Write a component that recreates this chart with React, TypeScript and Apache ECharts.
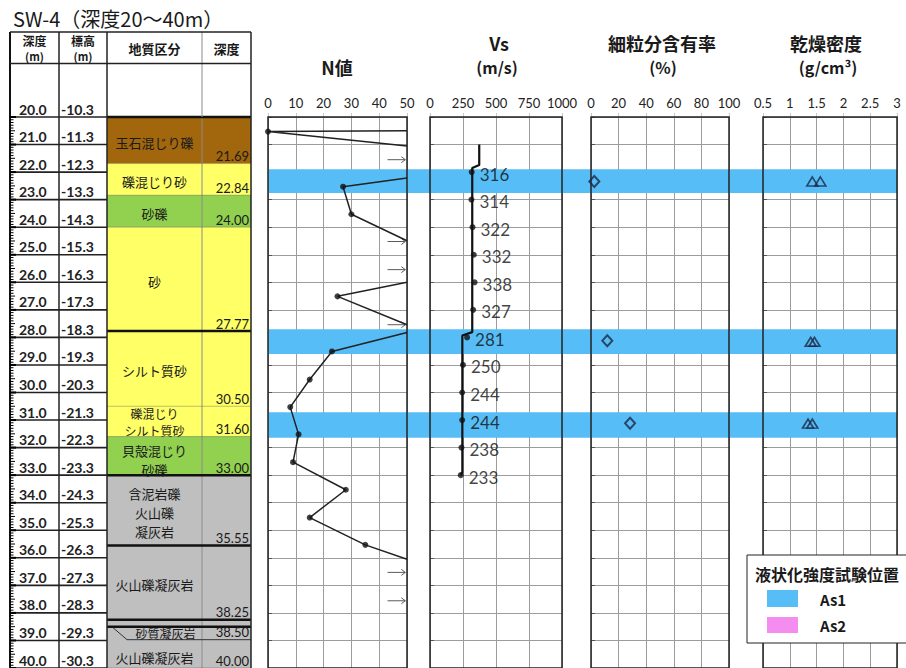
import React, { useEffect, useRef } from "react";
import * as echarts from "echarts";

// ---------------- data ----------------
const depthRows = [20, 21, 22, 23, 24, 25, 26, 27, 28, 29, 30, 31, 32, 33, 34, 35, 36, 37, 38, 39, 40];
const depthRowLabels = ["20.0", "21.0", "22.0", "23.0", "24.0", "25.0", "26.0", "27.0", "28.0", "29.0", "30.0", "31.0", "32.0", "33.0", "34.0", "35.0", "36.0", "37.0", "38.0", "39.0", "40.0"];
const elevationLabels = ["-10.3", "-11.3", "-12.3", "-13.3", "-14.3", "-15.3", "-16.3", "-17.3", "-18.3", "-19.3", "-20.3", "-21.3", "-22.3", "-23.3", "-24.3", "-25.3", "-26.3", "-27.3", "-28.3", "-29.3", "-30.3"];

const layerTop = [20.0, 21.69, 22.84, 24.0, 27.77, 30.5, 31.6, 33.0, 35.55, 38.25, 38.5];
const layerBottom = [21.69, 22.84, 24.0, 27.77, 30.5, 31.6, 33.0, 35.55, 38.25, 38.5, 40.0];
const layerNames = ["玉石混じり礫", "礫混じり砂", "砂礫", "砂", "シルト質砂", "礫混じり\nシルト質砂", "貝殻混じり\n砂礫", "含泥岩礫\n火山礫\n凝灰岩", "火山礫凝灰岩", "砂質凝灰岩", "火山礫凝灰岩"];
const layerDepthLabels = ["21.69", "22.84", "24.00", "27.77", "30.50", "31.60", "33.00", "35.55", "38.25", "38.50", "40.00"];
const layerClass = ["cobble", "sand", "gravel", "sand", "sand", "sand", "gravel", "tuff", "tuff", "tuff", "tuff"];

// N value (SPT)
const nTestDepth = [20.53, 22.53, 23.53, 26.51, 28.51, 29.53, 30.53, 31.52, 32.53, 33.53, 34.54, 35.53];
const nTestValue = [0, 27, 30, 25, 23, 15, 8, 11, 9, 28, 15, 35];
const nLineDepth = [20.5, 20.53, 21.05, NaN, 22.21, 22.53, 23.53, 24.49, NaN, 26.0, 26.51, 27.54, NaN, 27.82, 28.51, 29.53, 30.53, 31.52, 32.53, 33.53, 34.54, 35.53, 36.05];
const nLineValue = [50, 0, 50, NaN, 50, 27, 30, 50, NaN, 50, 25, 50, NaN, 50, 23, 15, 8, 11, 9, 28, 15, 35, 50];
const nOverDepth = [21.55, 24.52, 25.54, 27.54, 36.53, 37.56];

// Vs
const vsDepth = [22, 23, 24, 25, 26, 27, 28, 29, 30, 31, 32, 33];
const vsValue = [316, 314, 322, 332, 338, 327, 281, 250, 244, 244, 238, 233];
const vsLineDepth = [21.0, 21.74, 21.85, 27.81, 27.93, 32.9, 33.0];
const vsLineValue = [373, 373, 320, 320, 245, 245, 233];

// fines content
const fcDepth = [22.34, 28.12, 31.12];
const fcValue = [2.4, 11.8, 28.3];

// dry density
const rhoDepth = [22.34, 22.34, 28.16, 28.16, 31.13, 31.13];
const rhoValue = [1.42, 1.57, 1.39, 1.46, 1.34, 1.42];

// liquefaction strength test positions
const as1Top = [21.9, 27.7, 30.72];
const as1Bottom = [22.76, 28.6, 31.64];
const as2Top: number[] = [];
const as2Bottom: number[] = [];

// ---------------- style ----------------
const SOIL_COLORS: Record<string, string> = {
  cobble: "#A2670C",
  sand: "#FFFF66",
  gravel: "#92D050",
  tuff: "#BFBFBF",
};
const THICK_BOUNDARIES = [27.77, 33.0, 35.55, 38.25, 38.5];
const AS1_COLOR = "#57BDF6";
const AS2_COLOR = "#F58CF0";
const MARK_COLOR = "#1B2845";
const COLS = [0, 49, 97, 192, 241];
const CJK = "'Noto Sans CJK JP'";
const NUM = "Lato";

const PLOT_TOP = 117;
const PLOT_H = 552;

function panelAxes(i: number, min: number, max: number, interval: number) {
  return {
    x: {
      gridIndex: i,
      type: "value",
      position: "top",
      min,
      max,
      interval,
      axisLine: { show: false },
      axisTick: { show: true, length: 4, lineStyle: { color: "#c8c8c8" } },
      axisLabel: {
        margin: 8,
        fontSize: 13,
        color: "#222",
        fontFamily: NUM,
        showMinLabel: true,
        showMaxLabel: true,
        formatter: (v: number) => String(v),
      },
      splitLine: { show: true, lineStyle: { color: "#9c9c9c", width: 1 } },
    },
    y: {
      gridIndex: i,
      type: "value",
      inverse: true,
      min: 20,
      max: 40,
      interval: 1,
      axisLabel: { show: false },
      axisLine: { show: false },
      axisTick: { show: true, inside: true, length: 4, lineStyle: { color: "#555" } },
      splitLine: { show: true, lineStyle: { color: "#9c9c9c", width: 1 } },
    },
  };
}

function renderRow(params: any, api: any) {
  const i = params.dataIndex;
  const d = api.value(1);
  const p0 = api.coord([COLS[0], d]);
  const p1 = api.coord([COLS[1], d]);
  const p2 = api.coord([COLS[2], d]);
  return {
    type: "group",
    children: [
      { type: "line", shape: { x1: p0[0], y1: p0[1], x2: p2[0], y2: p0[1] }, style: { stroke: "#222", lineWidth: 1.6 } },
      {
        type: "text",
        style: { x: p0[0] + 9, y: p0[1] - 1, text: depthRowLabels[i], textAlign: "left", textVerticalAlign: "bottom", fill: "#222", font: `bold 14px ${NUM}` },
      },
      {
        type: "text",
        style: { x: p1[0] + 2, y: p0[1] - 1, text: elevationLabels[i], textAlign: "left", textVerticalAlign: "bottom", fill: "#222", font: `bold 14px ${NUM}` },
      },
    ],
  };
}

function renderRuler(params: any, api: any) {
  const d = api.value(1);
  const p = api.coord([COLS[0], d]);
  const major = params.dataIndex % 10 === 0;
  const half = params.dataIndex % 5 === 0;
  const len = major ? 6 : half ? 5 : 3.5;
  return {
    type: "line",
    shape: { x1: p[0], y1: p[1], x2: p[0] + len, y2: p[1] },
    style: { stroke: "#000", lineWidth: major ? 2 : 1 },
  };
}

function renderLayer(params: any, api: any) {
  const i = params.dataIndex;
  const top = api.value(1);
  const bot = api.value(2);
  const a = api.coord([COLS[2], top]);
  const b = api.coord([COLS[4], bot]);
  const xSep = api.coord([COLS[3], top])[0];
  const x3 = a[0];
  const yT = a[1];
  const x5 = b[0];
  const yB = b[1];
  const thin = yB - yT < 12;
  let prevThin = false;
  if (i > 0) {
    const pt = api.coord([0, layerTop[i - 1]])[1];
    const pb = api.coord([0, layerBottom[i - 1]])[1];
    prevThin = pb - pt < 12;
  }
  const thick = THICK_BOUNDARIES.indexOf(layerBottom[i]) >= 0;
  const children: any[] = [
    { type: "rect", shape: { x: x3, y: yT, width: x5 - x3, height: yB - yT }, style: { fill: SOIL_COLORS[layerClass[i]] } },
    { type: "line", shape: { x1: xSep, y1: yT, x2: xSep, y2: yB }, style: { stroke: "#8c8c8c", lineWidth: 1 } },
    {
      type: "line",
      z2: 5,
      shape: { x1: x3, y1: yB, x2: x5, y2: yB },
      style: thick ? { stroke: "#111", lineWidth: 2.5 } : { stroke: "rgba(0,0,0,0.25)", lineWidth: 1 },
    },
  ];
  if (i === 0) {
    children.push({ type: "line", z2: 5, shape: { x1: x3, y1: yT, x2: x5, y2: yT }, style: { stroke: "#111", lineWidth: 2.5 } });
  }
  if (!thin) {
    const lines = layerNames[i].split("\n");
    const tight = lines.length * 19 > yB - yT;
    const fs = tight ? 12 : 13;
    const lh = tight ? 17 : 19;
    let cy = prevThin ? (yT + 14 + yB) / 2 + 3 : (yT + yB) / 2 + (tight ? 1 : 2);
    if (lines.length > 1 && !tight && yB - yT < lines.length * 19 + 4) cy += 2;
    const y0 = cy - ((lines.length - 1) * lh) / 2;
    lines.forEach((s, k) => {
      children.push({
        type: "text",
        z2: 10,
        style: { x: (x3 + xSep) / 2, y: y0 + k * lh, text: s, textAlign: "center", textVerticalAlign: "middle", fill: "#1a1a1a", font: `${fs}px ${CJK}` },
      });
    });
    children.push({
      type: "text",
      z2: 10,
      style: { x: x5 - 2, y: yB - 1, text: layerDepthLabels[i], textAlign: "right", textVerticalAlign: "bottom", fill: "#1a1a1a", font: `13px ${NUM}` },
    });
  } else {
    children.push({
      type: "polyline",
      z2: 10,
      shape: { points: [[x3 + 6, yB + 1], [x3 + 20, yB + 13], [x5, yB + 13]] },
      style: { stroke: "#333", lineWidth: 1, fill: null },
    });
    children.push({
      type: "text",
      z2: 10,
      style: { x: (x3 + 22 + xSep) / 2, y: yB + 6.5, text: layerNames[i], textAlign: "center", textVerticalAlign: "middle", fill: "#1a1a1a", font: `12px ${CJK}` },
    });
    children.push({
      type: "text",
      z2: 10,
      style: { x: x5 - 2, y: yB + 12, text: layerDepthLabels[i], textAlign: "right", textVerticalAlign: "bottom", fill: "#1a1a1a", font: `13px ${NUM}` },
    });
  }
  return { type: "group", children };
}

function renderArrow(params: any, api: any) {
  const d = api.value(1);
  const p1 = api.coord([43, d]);
  const p2 = api.coord([49.4, d]);
  const y = p1[1];
  return {
    type: "group",
    children: [
      { type: "line", shape: { x1: p1[0], y1: y, x2: p2[0], y2: y }, style: { stroke: "#5a5a5a", lineWidth: 1 } },
      { type: "polyline", shape: { points: [[p2[0] - 4, y - 3], [p2[0], y], [p2[0] - 4, y + 3]] }, style: { stroke: "#5a5a5a", lineWidth: 1, fill: null } },
    ],
  };
}

function buildOption() {
  const panels = [
    panelAxes(0, 0, 50, 10),
    panelAxes(1, 0, 1000, 250),
    panelAxes(2, 0, 100, 20),
    panelAxes(3, 0.5, 3, 0.5),
  ];
  const gridBase = { top: PLOT_TOP, height: PLOT_H, show: true, borderColor: "#222", borderWidth: 1.5, backgroundColor: "transparent", z: 5 };
  const grids = [
    { ...gridBase, left: 268, width: 139 },
    { ...gridBase, left: 430, width: 132 },
    { ...gridBase, left: 591, width: 138 },
    { ...gridBase, left: 763, width: 134 },
    { left: 268, width: 629, top: PLOT_TOP, height: PLOT_H, show: false },
    { left: 10, width: 241, top: PLOT_TOP, height: PLOT_H, show: false },
  ];
  const xAxes: any[] = panels.map((p) => p.x);
  const yAxes: any[] = panels.map((p) => p.y);
  xAxes.push({ gridIndex: 4, type: "value", min: 0, max: 1, show: false });
  yAxes.push({ gridIndex: 4, type: "value", inverse: true, min: 20, max: 40, show: false });
  xAxes.push({ gridIndex: 5, type: "value", min: 0, max: 241, show: false });
  yAxes.push({ gridIndex: 5, type: "value", inverse: true, min: 20, max: 40, show: false });

  // split N line into segments
  const nSegments: number[][][] = [];
  let cur: number[][] = [];
  nLineDepth.forEach((d, i) => {
    if (Number.isNaN(d)) {
      if (cur.length) nSegments.push(cur);
      cur = [];
    } else cur.push([nLineValue[i], d]);
  });
  if (cur.length) nSegments.push(cur);

  // ruler tick positions (every 0.1 m from the axis scale)
  const rulerDepths: number[][] = [];
  for (let k = 0; k <= 200; k++) rulerDepths.push([0, 20 + k / 10]);

  const series: any[] = [];
  // bands
  series.push({
    type: "scatter",
    name: "As1",
    xAxisIndex: 4,
    yAxisIndex: 4,
    data: [[0, 20]],
    symbolSize: 0,
    silent: true,
    z: 1,
    markArea: { silent: true, itemStyle: { color: AS1_COLOR, opacity: 1 }, data: as1Top.map((t, i) => [{ yAxis: t }, { yAxis: as1Bottom[i] }]) },
  });
  series.push({
    type: "scatter",
    name: "As2",
    xAxisIndex: 4,
    yAxisIndex: 4,
    data: [[0, 20]],
    symbolSize: 0,
    silent: true,
    z: 1,
    markArea: { silent: true, itemStyle: { color: AS2_COLOR, opacity: 1 }, data: as2Top.map((t, i) => [{ yAxis: t }, { yAxis: as2Bottom[i] }]) },
  });
  // N
  nSegments.forEach((seg) => {
    series.push({
      type: "line",
      xAxisIndex: 0,
      yAxisIndex: 0,
      data: seg,
      showSymbol: false,
      lineStyle: { color: "#222", width: 1.5 },
      z: 6,
      silent: true,
    });
  });
  series.push({
    type: "scatter",
    xAxisIndex: 0,
    yAxisIndex: 0,
    data: nTestDepth.map((d, i) => [nTestValue[i], d]),
    symbol: "circle",
    symbolSize: 6,
    itemStyle: { color: "#111" },
    z: 7,
  });
  series.push({
    type: "custom",
    xAxisIndex: 0,
    yAxisIndex: 0,
    data: nOverDepth.map((d) => [50, d]),
    encode: { x: 0, y: 1 },
    renderItem: renderArrow,
    z: 6,
  });
  // Vs
  series.push({
    type: "line",
    xAxisIndex: 1,
    yAxisIndex: 1,
    data: vsLineDepth.map((d, i) => [vsLineValue[i], d]),
    showSymbol: false,
    lineStyle: { color: "#111", width: 2.2 },
    z: 6,
  });
  series.push({
    type: "scatter",
    xAxisIndex: 1,
    yAxisIndex: 1,
    data: vsDepth.map((d, i) => [vsValue[i], d]),
    symbol: "circle",
    symbolSize: 6,
    itemStyle: { color: "#111" },
    label: {
      show: true,
      position: "right",
      distance: 5,
      offset: [0, 2],
      formatter: (p: any) => String(p.value[0]),
      fontSize: 17,
      fontFamily: NUM,
      color: "#111",
    },
    z: 7,
  });
  // fines
  series.push({
    type: "scatter",
    xAxisIndex: 2,
    yAxisIndex: 2,
    data: fcDepth.map((d, i) => [fcValue[i], d]),
    symbol: "diamond",
    symbolSize: [10, 11],
    itemStyle: { color: "rgba(0,0,0,0)", borderColor: MARK_COLOR, borderWidth: 2 },
    z: 7,
  });
  // density
  series.push({
    type: "scatter",
    xAxisIndex: 3,
    yAxisIndex: 3,
    data: rhoDepth.map((d, i) => [rhoValue[i], d]),
    symbol: "triangle",
    symbolSize: [11, 9],
    itemStyle: { color: "rgba(0,0,0,0)", borderColor: MARK_COLOR, borderWidth: 1.6 },
    z: 7,
  });
  // table
  series.push({
    type: "custom",
    xAxisIndex: 5,
    yAxisIndex: 5,
    data: layerTop.map((t, i) => [0, t, layerBottom[i]]),
    encode: { x: 0, y: [1, 2] },
    renderItem: renderLayer,
    clip: false,
    z: 2,
  });
  series.push({
    type: "custom",
    xAxisIndex: 5,
    yAxisIndex: 5,
    data: depthRows.map((d) => [0, d]),
    encode: { x: 0, y: 1 },
    renderItem: renderRow,
    clip: false,
    z: 3,
  });
  series.push({
    type: "custom",
    xAxisIndex: 5,
    yAxisIndex: 5,
    data: rulerDepths,
    encode: { x: 0, y: 1 },
    renderItem: renderRuler,
    clip: false,
    silent: true,
    z: 16,
  });

  const txt = (x: number, y: number, text: string, font: string, align = "center") => ({
    type: "text",
    z: 20,
    style: { x, y, text, font, fill: "#1a1a1a", textAlign: align, textVerticalAlign: "middle" },
  });
  const line = (x1: number, y1: number, x2: number, y2: number, stroke: string, lineWidth: number) => ({
    type: "line",
    z: 15,
    shape: { x1, y1, x2, y2 },
    style: { stroke, lineWidth },
  });

  const graphic: any[] = [
    txt(13, 18, "SW-4（深度20～40m）", `20px ${CJK}`, "left"),
    // table frame
    line(10, 32, 10, 669, "#111", 2),
    line(59, 32, 59, 669, "#222", 1.5),
    line(107, 32, 107, 669, "#222", 1.5),
    line(202, 32, 202, 117, "#8c8c8c", 1),
    line(251, 32, 251, 669, "#222", 1.5),
    line(10, 32, 251, 32, "#222", 1.5),
    line(10, 63.5, 251, 63.5, "#222", 1.5),
    txt(34.5, 40, "深度", `bold 12px ${CJK}`),
    txt(34.5, 56, "(m)", `bold 11px ${CJK}`),
    txt(83, 40, "標高", `bold 12px ${CJK}`),
    txt(83, 56, "(m)", `bold 11px ${CJK}`),
    txt(154.5, 48, "地質区分", `bold 13px ${CJK}`),
    txt(226.5, 48, "深度", `bold 13px ${CJK}`),
    // panel titles
    txt(337, 67, "N値", `bold 18px ${CJK}`),
    txt(499, 43, "Vs", `bold 18px ${CJK}`),
    txt(497, 67, "(m/s)", `bold 16px ${CJK}`),
    txt(662, 43, "細粒分含有率", `bold 18px ${CJK}`),
    txt(663, 67, "(%)", `bold 16px ${CJK}`),
    txt(826, 43, "乾燥密度", `bold 18px ${CJK}`),
    txt(828, 67, "(g/cm³)", `bold 16px ${CJK}`),
    // legend
    { type: "rect", z: 30, shape: { x: 747, y: 555, width: 170, height: 88 }, style: { fill: "#fff", stroke: "#222", lineWidth: 1 } },
    { ...txt(755, 574, "液状化強度試験位置", `bold 16px ${CJK}`, "left"), z: 31 },
    { type: "rect", z: 31, shape: { x: 767, y: 590, width: 31, height: 17 }, style: { fill: AS1_COLOR } },
    { type: "rect", z: 31, shape: { x: 767, y: 617, width: 31, height: 16 }, style: { fill: AS2_COLOR } },
    { ...txt(820, 599, "As1", `bold 15px ${CJK}`, "left"), z: 31 },
    { ...txt(820, 625, "As2", `bold 15px ${CJK}`, "left"), z: 31 },
  ];

  return {
    animation: false,
    backgroundColor: "#fff",
    grid: grids,
    xAxis: xAxes,
    yAxis: yAxes,
    series,
    graphic,
  };
}

export default function App() {
  const ref = useRef<HTMLDivElement>(null);
  useEffect(() => {
    document.body.style.margin = "0";
    const chart = echarts.init(ref.current as HTMLDivElement, null, { renderer: "svg" });
    chart.setOption(buildOption() as any);
    return () => chart.dispose();
  }, []);
  return <div ref={ref} style={{ position: "absolute", left: 0, top: 0, width: 906, height: 668 }} />;
}
